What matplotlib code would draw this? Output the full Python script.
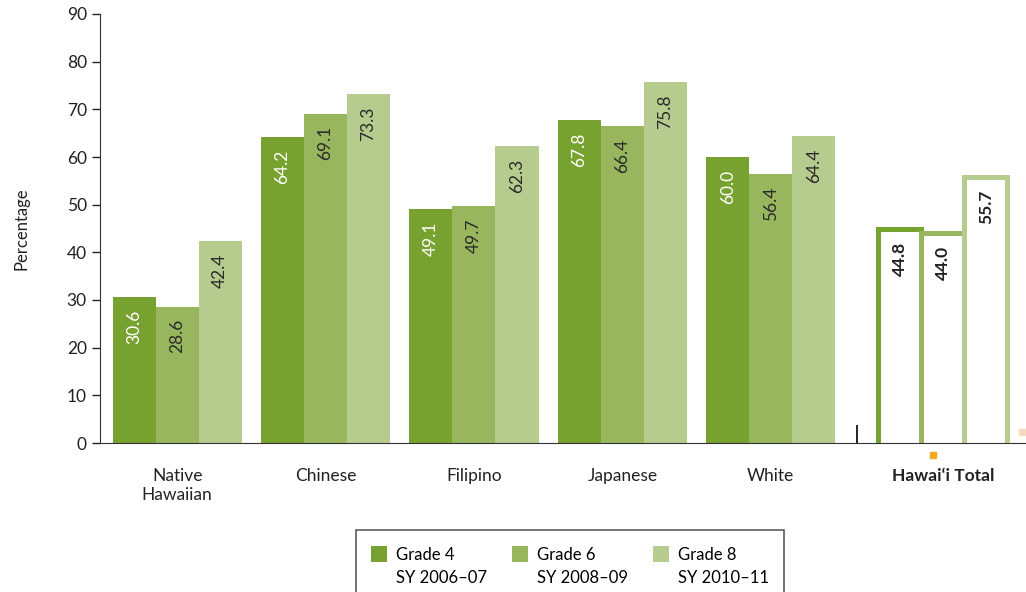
import numpy as np
import matplotlib
matplotlib.use('Agg')
import matplotlib.pyplot as plt
from matplotlib.patches import Patch, Rectangle
from matplotlib.legend_handler import HandlerPatch

plt.rcParams['font.family'] = ['Lato', 'DejaVu Sans']

# data
groups = ['Native\nHawaiian', 'Chinese', 'Filipino', 'Japanese', 'White', 'Hawai‘i Total']
grade4 = [30.6, 64.2, 49.1, 67.8, 60.0, 44.8]
grade6 = [28.6, 69.1, 49.7, 66.4, 56.4, 44.0]
grade8 = [42.4, 73.3, 62.3, 75.8, 64.4, 55.7]
series_names = ['Grade 4\nSY 2006–07', 'Grade 6\nSY 2008–09', 'Grade 8\nSY 2010–11']
colors = ['#78A22F', '#98B65D', '#B6CB8E']

fig = plt.figure(figsize=(10.26, 5.92), dpi=100)
ax = fig.add_axes([100 / 1026, 1 - 443 / 592, 926 / 1026, 429 / 592])

# group centres (Hawai'i Total sits a bit further right)
x = np.array([0, 1, 2, 3, 4, 5.16])
w = 0.29

for i, (vals, col) in enumerate(zip([grade4, grade6, grade8], colors)):
    xs = x + (i - 1) * w
    # ethnic groups: solid bars
    ax.bar(xs[:5], vals[:5], width=w, color=col)
    # state total: hollow bars, bottom edge pushed below the axis so it gets clipped
    ax.bar(xs[5:], np.array(vals[5:]) + 1.2, bottom=-1.2, width=w,
           facecolor='white', edgecolor=col, linewidth=3.6)
    for j in range(6):
        if j == 5:
            tc, fw = '#222222', 'bold'
        else:
            tc, fw = ('white' if i == 0 else '#2a2a2a'), 'normal'
        ax.annotate(f'{vals[j]:.1f}', (xs[j], vals[j]), xytext=(0, -9),
                    textcoords='offset points', rotation=90, ha='center', va='top',
                    fontsize=12.5, color=tc, fontweight=fw)

ax.set_ylim(0, 90)
ax.set_xlim(-0.52, 5.72)
ax.set_yticks(range(0, 91, 10))
ax.set_xticks(x)
ax.set_xticklabels(groups)
ax.get_xticklabels()[-1].set_fontweight('bold')
ax.tick_params(axis='x', length=0, pad=18, labelsize=12.5, colors='#222222')
ax.tick_params(axis='y', length=6, width=1, labelsize=12.5, colors='#222222')
# separator tick between White and Hawai'i Total
ax.set_xticks([4.58], minor=True)
ax.tick_params(axis='x', which='minor', direction='in', length=13, width=1.2)

for s in ['top', 'right']:
    ax.spines[s].set_visible(False)
ax.spines['left'].set_color('#333333')
ax.spines['bottom'].set_color('#333333')

ax.set_ylabel('Percentage', fontsize=12, color='#222222', labelpad=27)

# small stray marks from the original figure
ax.plot([5.09], [-2.5], 's', color='#F5A623', ms=4, clip_on=False)
ax.plot([5.69], [2.3], 's', color='#F9D9BE', ms=5, clip_on=False)


def top_square(legend, orig_handle, xdescent, ydescent, width, height, fontsize):
    s = 0.95 * fontsize
    return Rectangle((-xdescent, -ydescent + height - s - 0.05 * fontsize), s, s)


handles = [Patch(facecolor=c, edgecolor='none') for c in colors]
leg = fig.legend(handles, series_names, loc='upper center', ncol=3,
                 bbox_to_anchor=(570 / 1026, 1 - 530 / 592), frameon=True,
                 fancybox=False, edgecolor='#333333', fontsize=12,
                 handlelength=0.95, handleheight=4.0, handletextpad=0.55,
                 columnspacing=1.5, borderpad=0.9, borderaxespad=0,
                 handler_map={Patch: HandlerPatch(patch_func=top_square)})
leg.get_frame().set_linewidth(1.2)
for t in leg.get_texts():
    t.set_linespacing(1.5)

fig.savefig('out.png', dpi=100)
